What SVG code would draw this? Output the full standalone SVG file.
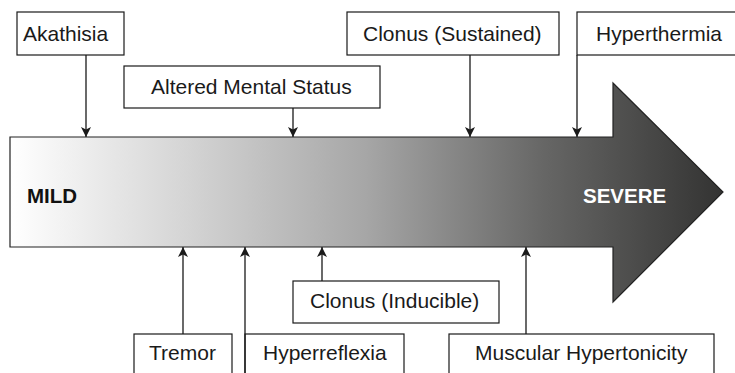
<svg xmlns="http://www.w3.org/2000/svg" width="735" height="373" viewBox="0 0 735 373">
  <style>
    .box { fill: #ffffff; stroke: #1a1a1a; stroke-width: 1.2; }
    .lbl { font-family: "Liberation Sans", Arial, sans-serif; font-size: 21px; fill: #1a1a1a; }
    .big { font-family: "Liberation Sans", Arial, sans-serif; font-size: 20.5px; font-weight: bold; }
    .conn { stroke: #1a1a1a; stroke-width: 1.3; fill: none; marker-end: url(#ah); }
  </style>
  <defs>
    <linearGradient id="grad" gradientUnits="userSpaceOnUse" x1="10" y1="0" x2="723" y2="0">
      <stop offset="0" stop-color="#ffffff"/>
      <stop offset="0.25" stop-color="#d4d4d4"/>
      <stop offset="0.5" stop-color="#a6a6a6"/>
      <stop offset="0.75" stop-color="#666665"/>
      <stop offset="1" stop-color="#333332"/>
    </linearGradient>
    <marker id="ah" viewBox="0 0 10 12" refX="10" refY="6" markerWidth="10" markerHeight="12" markerUnits="userSpaceOnUse" orient="auto">
      <path d="M0,1 L10,6 L0,11 L2.5,6 Z" fill="#1a1a1a"/>
    </marker>
  </defs>

  <g id="severity-arrow">
    <path d="M10,137 L613,137 L613,83 L723,192 L613,302 L613,247 L10,247 Z" fill="url(#grad)" stroke="#222" stroke-width="1.2"/>
    <text class="big" x="27" y="203" fill="#111">MILD</text>
    <text class="big" x="583" y="203" fill="#ffffff">SEVERE</text>
  </g>

  <g id="akathisia">
    <rect class="box" x="17" y="12" width="107" height="43"/>
    <text class="lbl" x="23" y="41">Akathisia</text>
  </g>
  <g id="altered-mental-status">
    <rect class="box" x="124" y="66" width="256" height="42"/>
    <text class="lbl" x="151" y="94">Altered Mental Status</text>
  </g>
  <g id="clonus-sustained">
    <rect class="box" x="347" y="12" width="212" height="43"/>
    <text class="lbl" x="363" y="41">Clonus (Sustained)</text>
  </g>
  <g id="hyperthermia">
    <rect class="box" x="577" y="12" width="170" height="43"/>
    <text class="lbl" x="596" y="41">Hyperthermia</text>
  </g>
  <g id="clonus-inducible">
    <rect class="box" x="293" y="281" width="206" height="42"/>
    <text class="lbl" x="310" y="308">Clonus (Inducible)</text>
  </g>
  <g id="tremor">
    <rect class="box" x="134" y="334" width="98" height="45"/>
    <text class="lbl" x="149" y="360">Tremor</text>
  </g>
  <g id="hyperreflexia">
    <rect class="box" x="245" y="334" width="159" height="45"/>
    <text class="lbl" x="263" y="360">Hyperreflexia</text>
  </g>
  <g id="muscular-hypertonicity">
    <rect class="box" x="449" y="334" width="265" height="45"/>
    <text class="lbl" x="475" y="360">Muscular Hypertonicity</text>
  </g>

  <g id="connectors">
    <line class="conn" x1="86" y1="55" x2="86" y2="137"/>
    <line class="conn" x1="293" y1="108" x2="293" y2="137"/>
    <line class="conn" x1="470" y1="55" x2="470" y2="137"/>
    <line class="conn" x1="577" y1="55" x2="577" y2="137"/>
    <line class="conn" x1="183" y1="334" x2="183" y2="247"/>
    <line class="conn" x1="245" y1="373" x2="245" y2="247"/>
    <line class="conn" x1="322" y1="281" x2="322" y2="247"/>
    <line class="conn" x1="526" y1="334" x2="526" y2="247"/>
  </g>
</svg>
